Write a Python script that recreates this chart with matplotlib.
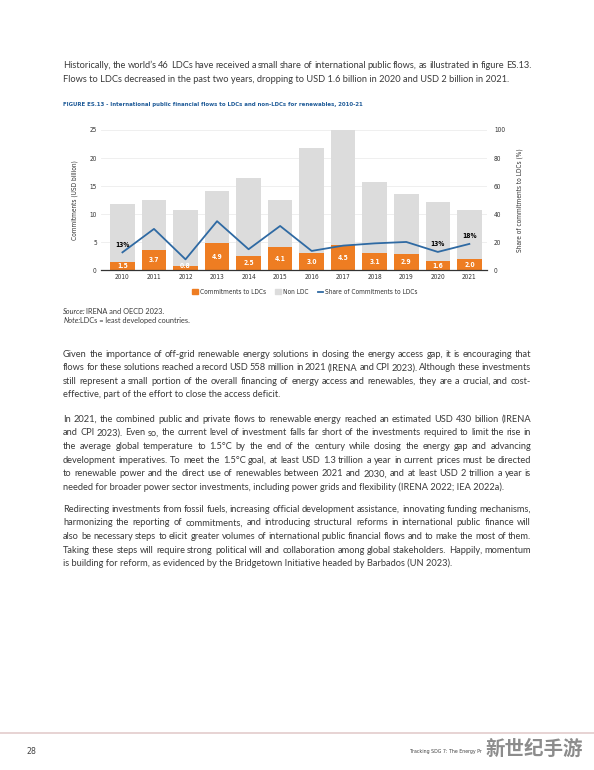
import matplotlib
matplotlib.use("Agg")
import matplotlib.pyplot as plt
from matplotlib.patches import Patch
from matplotlib.lines import Line2D
from matplotlib.font_manager import FontProperties

# Datos del grafico
years = ['2010', '2011', '2012', '2013', '2014', '2015', '2016', '2017', '2018', '2019', '2020', '2021']
ldc = [1.5, 3.7, 0.8, 4.9, 2.5, 4.1, 3.0, 4.5, 3.1, 2.9, 1.6, 2.0]
non_ldc = [10.3, 8.8, 10.0, 9.2, 14.0, 8.4, 18.8, 20.6, 12.6, 10.7, 10.6, 8.75]
share = [12.8, 29.5, 7.8, 35.0, 15.0, 31.6, 13.8, 17.6, 19.2, 20.2, 13.1, 18.8]
share_labels = {0: '13%', 10: '13%', 11: '18%'}
left_ticks = [0, 5, 10, 15, 20, 25]
right_ticks = [0, 20, 40, 60, 80, 100]

W, H = 594, 770
ORANGE = '#ee7d22'
GRAY = '#dcdcdc'
BLUE = '#2f6aa3'
TXT = '#3a3a3a'
BODY = ['Lato', 'DejaVu Sans']


def narrow(size, weight='normal'):
    return FontProperties(family='DejaVu Sans', stretch='condensed', size=size, weight=weight)


fig = plt.figure(figsize=(W / 100, H / 100), dpi=100)
fig.patch.set_facecolor('white')


def fx(x):
    return x / W


def fy(y):
    return 1 - y / H


renderer = fig.canvas.get_renderer()


def put_line(text, y, justify=True, x0=63, x1=531, size=6.65):
    if not justify:
        fig.text(fx(x0), fy(y), text, va='center', ha='left', fontsize=size,
                 family=BODY, color=TXT)
        return
    words = text.split(' ')
    arts = [fig.text(0, fy(y), w, va='center', ha='left', fontsize=size,
                     family=BODY, color=TXT) for w in words]
    widths = [a.get_window_extent(renderer).width for a in arts]
    gap = (x1 - x0 - sum(widths)) / (len(words) - 1)
    x = x0
    for a, wd in zip(arts, widths):
        a.set_x(fx(x))
        x += wd + gap


def paragraph(lines, y0, step=13.6):
    for i, ln in enumerate(lines):
        put_line(ln, y0 + i * step, justify=(i < len(lines) - 1))


# Texto superior
paragraph([
    "Historically, the world\u2019s 46 LDCs have received a small share of international public flows, as illustrated in figure ES.13.",
    "Flows to LDCs decreased in the past two years, dropping to USD 1.6 billion in 2020 and USD 2 billion in 2021.",
], 65, step=14.5)

fig.text(fx(63), fy(104.3),
         "FIGURE ES.13 - International public financial flows to LDCs and non-LDCs for renewables, 2010-21",
         va='center', ha='left', fontproperties=narrow(4.35, 'bold'), color='#1f5b98')

# Grafico
ax = fig.add_axes([fx(101), fy(270.3), fx(487) - fx(101), (270.3 - 130) / H])
x = list(range(len(years)))
ax.bar(x, ldc, width=0.78, color=ORANGE, zorder=2)
ax.bar(x, non_ldc, width=0.78, bottom=ldc, color=GRAY, zorder=2)
ax.set_xlim(-0.68, 11.56)
ax.set_ylim(0, 25)
ax.set_yticks(left_ticks)
ax.set_xticks(x)
ax.set_xticklabels(years)
ax.grid(axis='y', color='#ececec', linewidth=0.6, zorder=0)
for s in ['top', 'right', 'left']:
    ax.spines[s].set_visible(False)
ax.spines['bottom'].set_color('#333333')
ax.spines['bottom'].set_linewidth(0.9)
ax.spines['bottom'].set_zorder(4)
ax.tick_params(length=0, colors='#333333', pad=3)
for lab in ax.get_xticklabels() + ax.get_yticklabels():
    lab.set_fontproperties(narrow(4.7))
ax.set_ylabel('Commitments (USD billion)', fontproperties=narrow(4.7), color='#333333', labelpad=8)

for i, v in enumerate(ldc):
    ax.text(i, max(v / 2, 0.75), f'{v:.1f}', ha='center', va='center', color='white',
            fontproperties=narrow(4.8, 'bold'), zorder=3)

ax2 = ax.twinx()
ax2.plot(x, share, color=BLUE, linewidth=1.3, zorder=3)
ax2.set_ylim(0, 100)
ax2.set_yticks(right_ticks)
for s in ['top', 'right', 'left', 'bottom']:
    ax2.spines[s].set_visible(False)
ax2.tick_params(length=0, colors='#333333', pad=5)
for lab in ax2.get_yticklabels():
    lab.set_fontproperties(narrow(4.7))
ax2.set_ylabel('Share of commitments to LDCs (%)', fontproperties=narrow(4.7), color='#333333',
               rotation=90, labelpad=8)
for i, lab in share_labels.items():
    ax2.text(i, share[i] + 5.5, lab, ha='center', va='center',
             fontproperties=narrow(4.8, 'bold'), color='black')

handles = [Patch(color=ORANGE), Patch(color=GRAY), Line2D([], [], color=BLUE, linewidth=1.3)]
fig.legend(handles, ['Commitments to LDCs', 'Non LDC', 'Share of Commitments to LDCs'],
           loc='center', bbox_to_anchor=(fx(305), fy(292)), ncol=3, frameon=False,
           prop=narrow(4.7), handlelength=0.9, handleheight=0.9,
           handletextpad=0.3, columnspacing=1.4, labelcolor='#333333')

# Fuente y nota
fig.text(fx(63), fy(311), 'Source:', fontsize=5.3, family=BODY, style='italic', color=TXT, va='center')
fig.text(fx(86), fy(311), 'IRENA and OECD 2023.', fontsize=5.3, family=BODY, color=TXT, va='center')
fig.text(fx(64), fy(320.5), 'Note:', fontsize=5.3, family=BODY, style='italic', color=TXT, va='center')
fig.text(fx(80), fy(320.5), 'LDCs = least developed countries.', fontsize=5.3, family=BODY, color=TXT, va='center')

# Parrafos
paragraph([
    "Given the importance of off-grid renewable energy solutions in closing the energy access gap, it is encouraging that",
    "flows for these solutions reached a record USD 558 million in 2021 (IRENA and CPI 2023). Although these investments",
    "still represent a small portion of the overall financing of energy access and renewables, they are a crucial, and cost-",
    "effective, part of the effort to close the access deficit.",
], 354)
paragraph([
    "In 2021, the combined public and private flows to renewable energy reached an estimated USD 430 billion (IRENA",
    "and CPI 2023). Even so, the current level of investment falls far short of the investments required to limit the rise in",
    "the average global temperature to 1.5\u00b0C by the end of the century while closing the energy gap and advancing",
    "development imperatives. To meet the 1.5\u00b0C goal, at least USD 1.3 trillion a year in current prices must be directed",
    "to renewable power and the direct use of renewables between 2021 and 2030, and at least USD 2 trillion a year is",
    "needed for broader power sector investments, including power grids and flexibility (IRENA 2022; IEA 2022a).",
], 419.3)
paragraph([
    "Redirecting investments from fossil fuels, increasing official development assistance, innovating funding mechanisms,",
    "harmonizing the reporting of commitments, and introducing structural reforms in international public finance will",
    "also be necessary steps to elicit greater volumes of international public financial flows and to make the most of them.",
    "Taking these steps will require strong political will and collaboration among global stakeholders. Happily, momentum",
    "is building for reform, as evidenced by the Bridgetown Initiative headed by Barbados (UN 2023).",
], 509.3)

# Pie de pagina
fig.add_artist(Line2D([0, 1], [fy(732.7), fy(732.7)], color='#e3cccc', linewidth=1.2))
fig.text(fx(26), fy(752), '28', fontproperties=narrow(6.3), color='#444444', va='center')
fig.text(fx(410), fy(752), 'Tracking SDG 7: The Energy Pr', fontproperties=narrow(3.8),
         color='#444444', va='center')
fig.text(fx(583), fy(749), '新世纪手游', fontsize=14, family=['Noto Sans CJK SC', 'DejaVu Sans'],
         fontweight='bold', color='#8c8c8c', ha='right', va='center')

fig.savefig('out.png', dpi=100, facecolor='white')
